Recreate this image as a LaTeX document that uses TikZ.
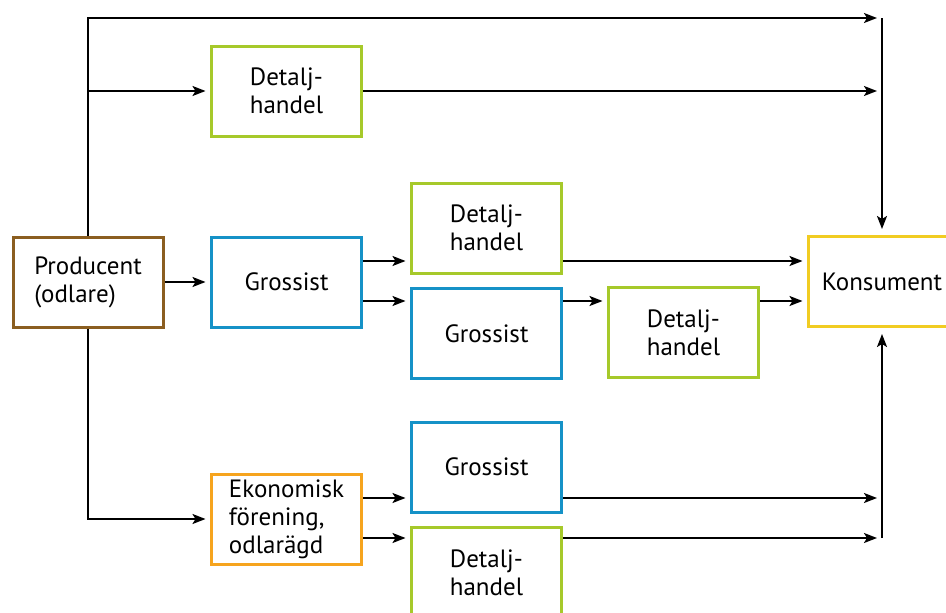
\documentclass[tikz,border=0pt]{standalone}
\usepackage{fontspec}
\setmainfont{PT Sans}
\usetikzlibrary{arrows.meta}
\definecolor{cbrown}{RGB}{139,94,32}
\definecolor{cgreen}{RGB}{166,201,42}
\definecolor{cblue}{RGB}{21,146,199}
\definecolor{cyellow}{RGB}{241,204,34}
\definecolor{corange}{RGB}{246,164,30}
\begin{document}
\begin{tikzpicture}[x=1pt,y=-1pt,
  box/.style={draw, line width=3pt, fill=white, minimum width=150pt, minimum height=90pt,
    inner sep=0pt, align=left, font=\fontsize{25}{28}\selectfont},
  arr/.style={line width=1.9pt, -{Stealth[length=13pt,width=10pt,inset=3pt]}},
  gap/.style={shorten >=4.5pt}]
\useasboundingbox (0,0) rectangle (946,613);
\fill[white] (0,0) rectangle (946,613);

\node[box, draw=cbrown] (prod) at (88,282) {Producent\\(odlare)};
\node[box, draw=cgreen] (det1) at (286.5,91) {Detalj-\\handel};
\node[box, draw=cblue] (gro1) at (286.5,282) {Grossist};
\node[box, draw=cgreen] (det2) at (486.5,228) {Detalj-\\handel};
\node[box, draw=cblue] (gro2) at (486.5,333.5) {Grossist};
\node[box, draw=cgreen] (det3) at (683.5,332.5) {Detalj-\\handel};
\node[box, draw=cyellow, minimum width=147pt] (kons) at (882,281.5) {Konsument};
\node[box, draw=corange] (ekon) at (286.5,519) {Ekonomisk\\förening,\\odlarägd};
\node[box, draw=cblue] (gro3) at (486.5,467) {Grossist};
\node[box, draw=cgreen] (det4) at (486.5,572.5) {Detalj-\\handel};

\coordinate (topend) at (877,18);
\coordinate (botend) at (877,538);

\draw[arr] (prod.north) |- (topend);
\draw[arr, gap] (prod.north |- det1.west) -- (det1.west);
\draw[arr] (det1.east) -- (det1.east -| topend);
\draw[arr, shorten >=6pt] (kons.north |- topend) -- (kons.north);

\draw[arr, gap] (prod.east) -- (gro1.west);
\draw[arr, gap] (gro1.east |- 0,261) -- (det2.west |- 0,261);
\draw[arr, gap] (gro1.east |- 0,301) -- (gro2.west |- 0,301);
\draw[arr, gap] (det2.east |- 0,261) -- (kons.west |- 0,261);
\draw[arr, gap] (gro2.east |- 0,301) -- (det3.west |- 0,301);
\draw[arr, gap] (det3.east |- 0,301) -- (kons.west |- 0,301);

\draw[arr, gap] (prod.south) |- (ekon.west);
\draw[arr, gap] (ekon.east |- 0,498) -- (gro3.west |- 0,498);
\draw[arr, gap] (ekon.east |- 0,538) -- (det4.west |- 0,538);
\draw[arr] (gro3.east |- 0,498) -- (topend |- 0,498);
\draw[arr] (det4.east |- 0,538) -- (botend);
\draw[arr, shorten >=6pt] (kons.south |- botend) -- (kons.south);
\end{tikzpicture}
\end{document}
